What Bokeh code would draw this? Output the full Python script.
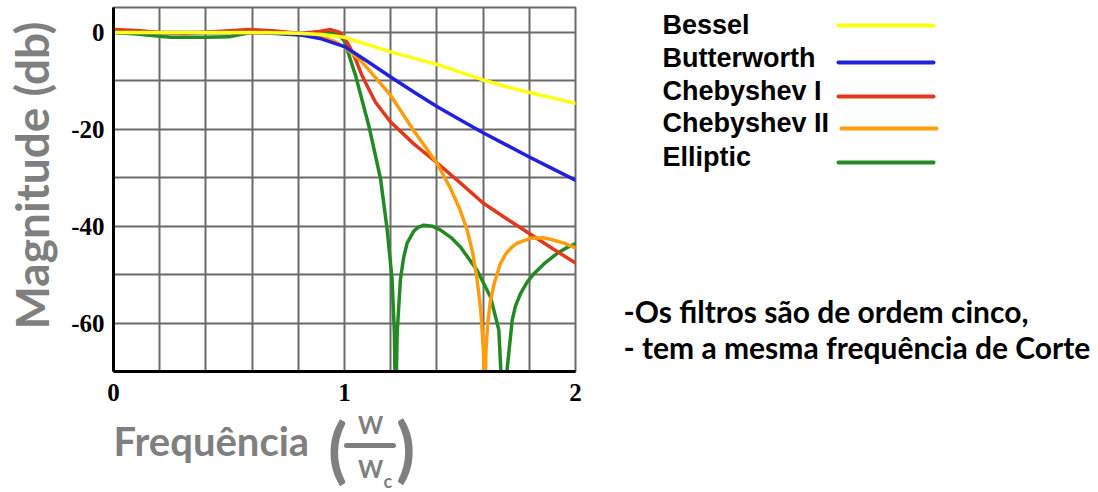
from math import pi

from bokeh.plotting import figure
from bokeh.layouts import column, row
from bokeh.models import Range1d, FixedTicker, Label
from bokeh.embed import file_html
from bokeh.resources import INLINE

# ---- axes -------------------------------------------------------------
x_tick_values = [0, 1, 2]
x_tick_labels = ["0", "1", "2"]
y_tick_values = [-60, -40, -20, 0]
y_tick_labels = ["-60", "-40", "-20", "0"]
x_grid_values = [0.0, 0.2, 0.4, 0.6, 0.8, 1.0, 1.2, 1.4, 1.6, 1.8, 2.0]
y_grid_values = [-70, -60, -50, -40, -30, -20, -10, 0]

# ---- fifth-order low-pass responses (normalised frequency w/wc, dB) ---
bessel_w = [0.0, 0.6, 0.7, 0.8, 0.9, 1.0, 1.1, 1.2, 1.3, 1.4, 1.5, 1.6, 1.7, 1.8, 1.9, 2.0]
bessel_db = [0.0, 0.0, -0.05, -0.15, -0.4, -1.0, -2.5, -4.0, -5.3, -6.6, -8.2, -9.8, -11.2, -12.4, -13.5, -14.6]

butter_w = [0.0, 0.6, 0.7, 0.8, 0.9, 1.0, 1.1, 1.2, 1.3, 1.4, 1.5, 1.6, 1.7, 1.8, 1.9, 2.0]
butter_db = [0.0, 0.0, -0.1, -0.4, -1.3, -2.9, -6.0, -9.2, -12.3, -15.3, -18.0, -20.7, -23.2, -25.7, -28.1, -30.5]

cheb1_w = [0.0, 0.1, 0.2, 0.31, 0.45, 0.59, 0.7, 0.81, 0.89, 0.94, 0.98, 1.0, 1.02, 1.05,
           1.076, 1.1, 1.134, 1.2, 1.3, 1.4, 1.5, 1.6, 1.7, 1.8, 1.9, 2.0]
cheb1_db = [0.6, 0.4, 0.0, -0.2, 0.2, 0.6, 0.3, -0.2, 0.2, 0.6, 0.0, -1.2, -2.7, -5.8,
            -8.9, -11.2, -14.4, -18.5, -23.0, -26.9, -31.0, -35.2, -38.4, -41.5, -44.6, -47.6]

cheb2_w = [0.0, 0.7, 0.8, 0.9, 0.96, 1.0, 1.076, 1.1, 1.2, 1.3, 1.4, 1.459, 1.5, 1.531, 1.555,
           1.574, 1.59, 1.602, 1.607, 1.612, 1.62, 1.632, 1.65, 1.675, 1.7, 1.725, 1.747, 1.805,
           1.86, 1.9, 1.95, 2.0]
cheb2_db = [0.0, -0.05, -0.3, -0.9, -1.9, -3.0, -6.1, -7.4, -13.0, -20.3, -27.0, -32.2, -36.6,
            -40.8, -45.5, -51.0, -57.5, -66.0, -80.0, -66.0, -60.0, -55.3, -51.5, -47.7, -45.6,
            -44.3, -43.5, -42.5, -42.4, -42.8, -43.5, -44.5]

ellip_w = [0.0, 0.1, 0.2, 0.25, 0.4, 0.5, 0.55, 0.6, 0.7, 0.8, 0.87, 0.93, 0.97, 1.0, 1.048,
           1.105, 1.156, 1.185, 1.206, 1.216, 1.221, 1.228, 1.242, 1.256, 1.271, 1.3, 1.32,
           1.343, 1.38, 1.416, 1.46, 1.502, 1.574, 1.632, 1.668, 1.677, 1.69, 1.703, 1.726,
           1.74, 1.762, 1.79, 1.82, 1.87, 1.921, 1.96, 2.0]
ellip_db = [0.0, -0.3, -0.8, -1.0, -1.0, -0.9, -0.4, 0.0, -0.2, -0.5, -0.3, 0.0, -0.2, -1.8,
            -8.9, -19.2, -30.2, -40.8, -51.0, -62.0, -80.0, -62.0, -51.0, -46.5, -43.5, -41.0,
            -40.2, -39.8, -40.0, -40.8, -42.3, -44.3, -49.1, -54.6, -61.4, -70.0, -85.0, -70.0,
            -59.4, -56.5, -53.9, -51.6, -49.8, -47.5, -45.6, -44.5, -43.6]

series_names = ["Bessel", "Butterworth", "Chebyshev I", "Chebyshev II", "Elliptic"]
series_colors = ["#ffff14", "#2121dd", "#e2381b", "#ff9d0d", "#238a23"]
series_data = [(bessel_w, bessel_db), (butter_w, butter_db), (cheb1_w, cheb1_db),
               (cheb2_w, cheb2_db), (ellip_w, ellip_db)]

# ---- page geometry (pixels) -------------------------------------------
W, H = 1098, 492
LEFT_W = 60            # strip holding the vertical title
MAIN_W = 540           # figure holding the chart frame
TOP_H = 404            # height of the upper row
FRAME_L, FRAME_R, FRAME_T, FRAME_B = 113, 575, 7, 371

GREY = "#7f7f7f"
GRID = "#6a6a6a"


def side_panel(x0, w):
    """Panel of the upper row; data units are page pixels (y down).

    Its frame spans the same rows as the chart frame so the row stays aligned."""
    f = figure(width=w, height=TOP_H, x_range=Range1d(x0, x0 + w),
               y_range=Range1d(FRAME_B, FRAME_T), output_backend="svg",
               toolbar_location=None, min_border_left=0, min_border_right=0,
               min_border_top=FRAME_T, min_border_bottom=TOP_H - FRAME_B,
               x_axis_type=None, y_axis_type=None)
    f.grid.visible = False
    f.outline_line_color = None
    f.background_fill_color = "white"
    f.border_fill_color = "white"
    return f


def bottom_panel():
    f = figure(width=W, height=H - TOP_H, x_range=Range1d(0, W),
               y_range=Range1d(H, TOP_H), output_backend="svg", toolbar_location=None,
               min_border=0, x_axis_type=None, y_axis_type=None)
    f.grid.visible = False
    f.outline_line_color = None
    f.background_fill_color = "white"
    f.border_fill_color = "white"
    return f


def put_text(f, text, x, y, size, font="Lato", color="black", align="left",
             angle=0.0, style="bold"):
    # (x, y) is the middle of the text box
    f.add_layout(Label(x=x, y=y, text=text, text_font=font, text_font_size=size,
                       text_font_style=style, text_color=color, text_align=align,
                       text_baseline="middle", angle=angle))


# ---- chart ------------------------------------------------------------
p = figure(width=MAIN_W, height=TOP_H, output_backend="svg", toolbar_location=None,
           x_range=Range1d(0, 2), y_range=Range1d(-70, 5.16),
           min_border_left=FRAME_L - LEFT_W, min_border_right=LEFT_W + MAIN_W - FRAME_R,
           min_border_top=FRAME_T, min_border_bottom=TOP_H - FRAME_B)
p.background_fill_color = "white"
p.border_fill_color = "white"
p.outline_line_color = GRID
p.outline_line_width = 2

p.xgrid.ticker = FixedTicker(ticks=x_grid_values)
p.ygrid.ticker = FixedTicker(ticks=y_grid_values)
p.grid.grid_line_color = GRID
p.grid.grid_line_width = 2
p.grid.grid_line_alpha = 1.0

p.xaxis.ticker = FixedTicker(ticks=x_tick_values)
p.yaxis.ticker = FixedTicker(ticks=y_tick_values)
p.xaxis.major_label_overrides = dict(zip(x_tick_values, x_tick_labels))
p.yaxis.major_label_overrides = dict(zip(y_tick_values, y_tick_labels))
for ax in (p.xaxis, p.yaxis):
    ax.axis_line_color = "black"
    ax.axis_line_width = 3
    ax.major_tick_line_color = None
    ax.minor_tick_line_color = None
    ax.major_tick_out = 0
    ax.major_tick_in = 0
    ax.minor_tick_out = 0
    ax.major_label_text_font = "Liberation Serif"
    ax.major_label_text_font_style = "bold"
    ax.major_label_text_font_size = "25px"
    ax.major_label_text_color = "black"
p.xaxis.major_label_text_line_height = 0.8
p.xaxis.major_label_standoff = 12
p.yaxis.major_label_standoff = 9

# draw order: elliptic at the back, bessel on top
for idx in [4, 2, 3, 1, 0]:
    xs, ys = series_data[idx]
    p.line(xs, ys, line_color=series_colors[idx], line_width=3.5,
           line_join="round", line_cap="round")

# ---- vertical title ---------------------------------------------------
left = side_panel(0, LEFT_W)
put_text(left, "Magnitude (db)", 31, 329, "46px", color=GREY, angle=pi / 2)

# ---- legend and notes -------------------------------------------------
RX = LEFT_W + MAIN_W
right = side_panel(RX, W - RX)
legend_mid_y = [24, 57, 90, 122, 156]
legend_line_y = [25, 62, 96, 128, 162]
legend_line_x = [(838, 933), (838, 933), (838, 933), (841, 936), (838, 933)]
for name, color, ty, ly, (lx0, lx1) in zip(series_names, series_colors, legend_mid_y,
                                          legend_line_y, legend_line_x):
    put_text(right, name, 662, ty, "27px", font="Liberation Sans")
    right.segment(x0=[lx0], y0=[ly], x1=[lx1], y1=[ly], line_color=color,
                  line_width=4, line_cap="round")

put_text(right, "-Os filtros são de ordem cinco,", 623, 310, "30px")
put_text(right, "- tem a mesma frequência de Corte", 623, 346, "30px")

# ---- horizontal title: Frequência (w / wc) ----------------------------
bottom = bottom_panel()
put_text(bottom, "Frequência", 113, 440, "40px", color=GREY)
put_text(bottom, "(", 337, 447, "70px", color=GREY, align="center")
put_text(bottom, ")", 405, 446, "70px", color=GREY, align="center")
put_text(bottom, "W", 370, 424, "24px", color=GREY, align="center")
bottom.segment(x0=[346], y0=[445], x1=[393], y1=[445], line_color=GREY,
               line_width=5, line_cap="round")
put_text(bottom, "W", 370, 468, "24px", color=GREY, align="center")
put_text(bottom, "c", 383, 480, "18px", color=GREY)

page = column(row(left, p, right, spacing=0), bottom, spacing=0)

open("out.html", "w").write(file_html(page, INLINE))
